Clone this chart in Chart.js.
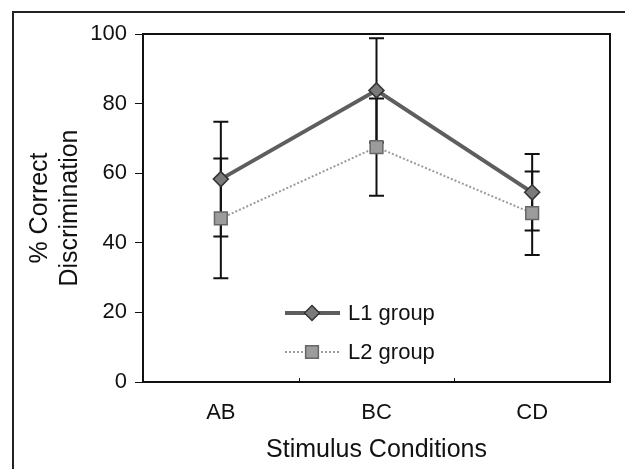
<!DOCTYPE html>
<html>
<head>
<meta charset="utf-8">
<script src="https://cdn.jsdelivr.net/npm/chart.js@4/dist/chart.umd.min.js"></script>
<style>
  html, body { margin: 0; padding: 0; background: #fff; overflow: hidden; }
  #wrap { position: relative; width: 625px; height: 469px; }
  #frame { position: absolute; left: 12px; top: 11px; width: 700px; height: 600px;
           border-left: 2px solid #222; border-top: 2px solid #222; }
  canvas { position: absolute; left: 0; top: 0; }
</style>
</head>
<body>
<div id="wrap">
  <div id="frame"></div>
  <canvas id="chart" width="625" height="469"></canvas>
</div>
<script>
'use strict';

// data
const categories = ['AB', 'BC', 'CD'];
const l1Means = [58.3, 83.8, 54.5];
const l1Errors = [16.5, 15, 11];
const l2Means = [47, 67.5, 48.5];
const l2Errors = [17.2, 14, 12];
const yTicks = [0, 20, 40, 60, 80, 100];

Chart.defaults.font.family = "'Liberation Sans', Arial, sans-serif";
Chart.defaults.color = '#111';

// vertical error bars with caps, drawn under the markers
const errorBars = {
    id: 'errorBars',
    beforeDatasetsDraw(chart) {
        const { ctx, scales: { x, y } } = chart;
        ctx.save();
        ctx.strokeStyle = '#111';
        ctx.lineWidth = 2;
        chart.data.datasets.forEach(ds => {
            ds.data.forEach((v, j) => {
                const px = x.getPixelForValue(j);
                const top = y.getPixelForValue(v + ds.errors[j]);
                const bot = y.getPixelForValue(v - ds.errors[j]);
                ctx.beginPath();
                ctx.moveTo(px, top); ctx.lineTo(px, bot);
                ctx.moveTo(px - 7.5, top); ctx.lineTo(px + 7.5, top);
                ctx.moveTo(px - 7.5, bot); ctx.lineTo(px + 7.5, bot);
                ctx.stroke();
            });
        });
        ctx.restore();
    }
};

// box around the plot area, plus the small inward ticks between categories
const plotFrame = {
    id: 'plotFrame',
    beforeDatasetsDraw(chart) {
        const { ctx, chartArea: a, scales: { x } } = chart;
        ctx.save();
        ctx.strokeStyle = '#111';
        ctx.lineWidth = 2;
        ctx.strokeRect(a.left, a.top, a.right - a.left, a.bottom - a.top);
        ctx.lineWidth = 1;
        ctx.beginPath();
        for (let j = 1; j < categories.length; j++) {
            const px = Math.round((x.getPixelForValue(j - 1) + x.getPixelForValue(j)) / 2) + 0.5;
            ctx.moveTo(px, a.bottom);
            ctx.lineTo(px, a.bottom - 4);
        }
        ctx.stroke();
        ctx.restore();
    }
};

function drawMarker(ctx, style, r, x, y, fill, stroke) {
    ctx.beginPath();
    if (style === 'rectRot') {
        ctx.moveTo(x, y - r); ctx.lineTo(x + r, y);
        ctx.lineTo(x, y + r); ctx.lineTo(x - r, y);
    } else {
        const s = r * Math.SQRT1_2;
        ctx.rect(x - s, y - s, 2 * s, 2 * s);
    }
    ctx.closePath();
    ctx.fillStyle = fill;
    ctx.fill();
    ctx.lineWidth = 1.5;
    ctx.strokeStyle = stroke;
    ctx.stroke();
}

// legend sits inside the plot, below the lines
const innerLegend = {
    id: 'innerLegend',
    afterDraw(chart) {
        const { ctx } = chart;
        ctx.save();
        chart.data.datasets.forEach((ds, i) => {
            const y = 313 + i * 39;
            ctx.beginPath();
            ctx.setLineDash(ds.borderDash || []);
            ctx.strokeStyle = ds.borderColor;
            ctx.lineWidth = ds.borderWidth;
            ctx.moveTo(285, y); ctx.lineTo(340, y);
            ctx.stroke();
            ctx.setLineDash([]);
            drawMarker(ctx, ds.pointStyle, ds.pointRadius, 312, y,
                ds.pointBackgroundColor, ds.pointBorderColor);
            ctx.fillStyle = '#111';
            ctx.font = "22px 'Liberation Sans', Arial, sans-serif";
            ctx.textBaseline = 'middle';
            ctx.fillText(ds.label, 348, y + 1);
        });
        ctx.restore();
    }
};

new Chart(document.getElementById('chart'), {
    type: 'line',
    data: {
        labels: categories,
        datasets: [
            {
                label: 'L1 group',
                data: l1Means,
                errors: l1Errors,
                borderColor: '#5e5e5e',
                borderWidth: 4,
                pointStyle: 'rectRot',
                pointRadius: 7.5,
                pointBackgroundColor: '#7a7a7a',
                pointBorderColor: '#333',
                pointBorderWidth: 1.5,
                tension: 0
            },
            {
                label: 'L2 group',
                data: l2Means,
                errors: l2Errors,
                borderColor: '#9a9a9a',
                borderWidth: 2,
                borderDash: [2, 2],
                pointStyle: 'rect',
                pointRadius: 9,
                pointBackgroundColor: '#9c9c9c',
                pointBorderColor: '#666',
                pointBorderWidth: 1.5,
                tension: 0
            }
        ]
    },
    options: {
        responsive: false,
        animation: false,
        devicePixelRatio: 1,
        layout: { padding: { top: 34, right: 15, left: 0, bottom: 0 } },
        scales: {
            x: {
                offset: true,
                grid: { display: false },
                border: { display: false },
                ticks: { font: { size: 22 }, padding: 10 },
                title: {
                    display: true,
                    text: 'Stimulus Conditions',
                    font: { size: 25, lineHeight: 1.2 },
                    padding: { top: 0, bottom: 4 }
                },
                afterFit: s => { s.height = 87; }
            },
            y: {
                min: 0,
                max: 100,
                afterBuildTicks: s => { s.ticks = yTicks.map(v => ({ value: v })); },
                grid: {
                    drawOnChartArea: false,
                    drawTicks: true,
                    tickLength: 8,
                    color: '#111',
                    lineWidth: 1
                },
                border: { display: false },
                ticks: { font: { size: 22 }, padding: 8 },
                title: {
                    display: true,
                    text: ['% Correct', 'Discrimination'],
                    font: { size: 25, lineHeight: 1.2 },
                    padding: { top: 25, bottom: 0 }
                },
                afterFit: s => { s.width = 143; }
            }
        },
        plugins: {
            legend: { display: false },
            tooltip: { enabled: false }
        }
    },
    plugins: [plotFrame, errorBars, innerLegend]
});
</script>
</body>
</html>
